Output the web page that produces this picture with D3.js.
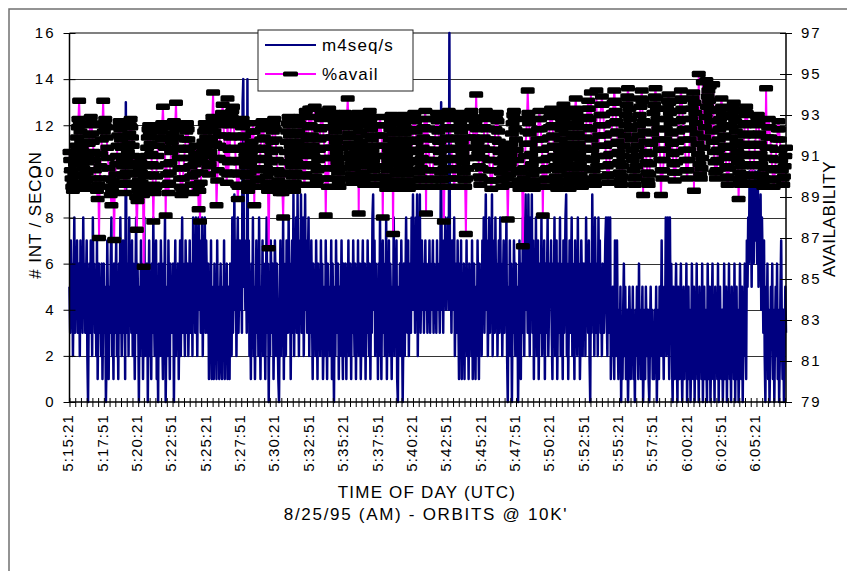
<!DOCTYPE html>
<html>
<head>
<meta charset="utf-8">
<script src="https://cdn.jsdelivr.net/npm/d3@7"></script>
<style>
  body { margin: 0; background: #fff; }
  text { font-family: "Liberation Sans", Arial, sans-serif; fill: #000; }
</style>
</head>
<body>
<script>
"use strict";

// samples every 3 s starting 5:15:21 ; minor tick every 25 s, label every 150 s
const stepSec = 3;
const spanSec = 3129;
const tickLabels = ["5:15:21","5:17:51","5:20:21","5:22:51","5:25:21","5:27:51","5:30:21","5:32:51","5:35:21","5:37:51",
  "5:40:21","5:42:51","5:45:21","5:47:51","5:50:21","5:52:51","5:55:21","5:57:51","6:00:21","6:02:51","6:05:21"];
const leftTicks = [0,2,4,6,8,10,12,14,16];
const rightTicks = [79,81,83,85,87,89,91,93,95,97];

const m4seq = [
  5,3,7,4,6,2,5,8,3,6,4,7,3,5,6,2,7,4,5,3,8,4,6,3,5,7,2,0,4,6,3,7,5,2,8,4,6,3,5,2,7,1,4,6,3,5,2,6,1,4,
  6,3,5,0,2,7,4,1,5,3,6,8,2,4,1,6,3,5,7,2,4,1,6,3,8,5,2,4,7,3,6,1,13,5,3,6,2,8,4,5,3,7,2,6,4,1,5,8,3,6,
  4,0,5,2,7,3,6,1,4,8,2,5,3,6,0,4,7,2,5,1,6,3,8,4,2,5,7,1,3,0,6,4,2,7,5,3,1,6,4,8,0,3,5,2,7,4,1,6,3,5,
  3,6,0,4,7,2,5,3,6,1,4,7,2,5,8,3,6,4,2,7,5,3,6,2,4,7,3,5,6,2,8,4,7,3,8,5,2,6,8,4,7,3,5,8,2,6,4,8,3,7,
  5,3,6,1,4,2,7,1,5,3,1,6,2,4,1,7,3,5,1,4,6,2,1,5,3,7,1,4,2,6,1,3,5,1,6,4,2,8,3,5,9,4,7,2,6,8,3,5,7,4,
  6,3,13,14,5,7,4,6,3,14,4,7,2,5,1,6,3,8,2,5,1,4,7,3,6,2,8,4,1,5,3,7,2,6,4,1,5,8,3,6,0,4,2,7,5,3,6,1,4,7,
  5,2,6,3,1,0,4,7,2,5,3,8,1,6,4,2,7,5,3,8,4,6,1,5,7,3,9,2,6,4,8,3,9,5,2,7,4,9,3,6,8,2,5,9,4,7,3,6,8,2,
  5,3,7,4,1,6,3,5,2,7,4,1,6,3,5,2,7,4,6,1,3,5,2,7,4,1,6,3,5,2,4,7,1,6,3,0,5,2,7,4,3,6,1,5,2,4,7,3,1,6,
  4,2,6,1,5,3,7,2,4,6,1,5,3,7,4,2,6,1,5,3,7,2,4,6,1,3,5,7,2,4,6,1,5,3,7,4,2,6,1,5,3,8,9,4,7,2,6,3,5,1,
  6,2,8,4,1,5,7,3,6,2,4,8,1,5,3,7,2,6,4,1,5,3,8,2,6,4,7,1,0,5,3,6,2,7,4,0,3,6,2,5,8,4,3,7,2,6,5,3,8,4,
  9,4,7,3,8,5,9,2,6,4,9,3,5,7,4,6,3,5,7,4,6,3,5,4,7,3,6,4,5,7,3,6,4,5,3,7,4,6,5,3,7,13,4,6,3,7,5,8,4,6,
  5,8,4,16,4,6,3,7,5,4,8,2,5,6,3,7,4,1,6,3,7,1,4,2,6,1,5,3,7,2,4,1,6,3,5,2,7,1,4,6,3,1,5,2,7,4,1,6,3,5,
  2,7,4,8,3,6,9,4,7,2,5,8,3,6,4,9,2,7,5,3,8,4,6,2,5,7,3,8,4,6,2,5,7,3,6,4,8,2,0,5,3,7,2,6,0,4,3,7,5,2,
  6,2,5,0,3,7,4,1,6,3,8,5,2,7,9,4,6,3,9,5,2,8,4,9,3,7,1,6,3,8,2,5,7,1,4,6,3,8,2,5,4,7,1,6,3,5,8,2,4,6,
  5,7,3,1,6,4,8,2,5,7,1,4,6,3,8,2,6,4,1,7,3,5,8,9,2,6,1,4,7,3,5,8,2,6,4,1,7,3,5,2,8,4,6,1,3,7,5,2,6,4,
  6,2,8,4,5,3,7,2,0,6,3,9,4,7,2,8,5,3,6,2,8,4,7,3,5,2,6,4,3,5,7,8,4,2,8,5,3,8,1,4,2,5,3,1,7,4,2,7,3,1,
  4,2,5,0,3,1,4,6,2,5,1,3,4,0,2,5,3,1,4,2,5,1,3,0,4,2,5,3,1,6,2,4,1,3,5,0,2,4,1,5,3,2,4,1,0,3,5,2,4,1,
  3,1,4,2,5,0,3,4,1,5,2,3,7,2,4,1,5,3,8,2,6,8,4,1,8,3,6,2,0,5,3,1,4,6,2,0,5,3,1,4,6,2,0,3,5,1,4,2,6,0,
  3,5,1,4,0,2,6,3,1,5,0,4,2,6,1,3,0,5,2,4,1,6,0,3,5,1,4,2,0,6,3,1,5,0,2,4,6,1,3,0,5,2,4,1,6,0,3,5,2,1,
  4,0,2,6,1,3,5,0,4,2,6,1,3,0,5,2,4,1,6,0,3,5,1,4,0,2,6,3,1,5,0,4,2,6,3,1,7,5,8,6,10,7,9,5,10,8,6,9,10,7,
  9,6,10,5,8,7,9,4,8,6,3,7,2,0,5,3,6,1,4,0,2,5,3,6,1,4,0,3,5,2,6,1,4,0,2,5,7,3,1,4,0,2,5,3
];

const avail = [
  91.2,90.8,90.3,89.9,89.5,89.3,89.7,90.1,90.6,91.0,91.5,91.9,92.4,92.8,93.7,92.6,92.2,91.7,91.3,90.8,90.4,90.0,89.6,89.4,89.8,
  90.2,90.7,91.1,91.6,92.0,92.5,92.9,92.6,92.1,91.7,91.2,90.8,90.3,89.9,89.5,89.3,88.9,89.6,87.0,89.9,90.5,91.1,91.8,92.5,93.7,
  92.2,92.6,92.8,92.4,91.9,91.4,90.9,90.4,89.9,89.5,89.1,88.6,89.3,89.8,89.2,86.9,89.6,90.1,90.6,91.0,91.5,92.0,92.4,92.7,92.3,
  91.8,91.4,90.9,90.5,90.0,89.6,89.2,89.7,90.2,90.7,91.2,91.6,92.1,92.5,92.8,92.4,91.9,91.5,91.0,90.5,90.1,89.6,89.0,87.4,88.8,
  89.3,89.8,90.3,90.7,90.2,89.7,89.4,89.1,85.6,89.5,90.0,90.5,91.0,91.4,91.9,92.3,92.5,92.1,91.6,91.1,90.6,90.1,87.8,89.6,89.2,
  89.5,90.0,90.5,91.0,91.5,91.9,92.3,92.5,92.2,91.8,92.6,93.4,92.4,91.9,91.4,88.1,90.6,90.1,89.6,89.2,89.7,90.2,90.7,91.2,91.7,
  92.1,92.5,92.7,92.4,92.6,93.6,92.3,91.9,91.4,90.9,90.4,89.9,89.5,89.1,89.4,89.9,90.4,90.9,91.3,91.8,92.2,92.6,92.3,91.8,91.4,
  90.9,90.5,90.0,89.6,89.2,89.6,90.1,90.6,91.1,91.5,90.9,90.2,89.6,88.4,89.3,87.8,89.7,90.2,90.7,91.2,91.7,92.2,92.6,92.3,91.9,
  91.5,91.0,90.5,90.1,90.6,91.2,91.8,92.4,92.9,94.1,92.7,92.2,91.6,90.9,88.6,89.8,90.3,90.9,91.5,92.0,92.5,92.9,93.1,93.5,92.6,
  92.0,91.4,90.8,90.2,89.7,93.8,90.1,90.7,91.3,91.9,92.5,92.9,93.2,93.4,92.6,92.0,91.4,90.8,90.2,89.6,88.9,89.5,90.1,90.7,91.3,
  91.9,92.4,92.8,92.5,92.0,91.5,91.0,90.5,90.0,89.6,89.3,89.7,90.2,90.7,91.2,91.7,92.2,92.6,92.2,88.6,91.4,90.9,90.4,89.9,89.5,
  89.8,90.3,90.8,91.3,91.8,92.3,92.7,92.4,91.9,91.4,90.9,90.4,90.0,89.6,89.3,86.5,89.7,90.2,90.7,91.2,91.7,92.2,92.6,92.8,92.3,
  91.8,91.3,90.8,90.3,89.8,89.4,89.2,89.6,90.1,89.5,89.2,88.0,89.7,90.2,90.7,91.2,91.7,92.2,92.6,92.9,92.5,92.0,91.5,91.0,90.5,
  90.0,89.6,89.3,89.7,90.2,90.7,91.2,91.7,92.2,92.6,92.9,92.5,92.0,91.5,91.0,90.5,90.0,89.6,90.1,93.2,90.6,91.2,91.8,92.4,93.3,
  92.9,92.5,93.3,92.0,91.5,91.0,90.5,93.4,90.0,89.6,89.8,90.3,90.8,91.3,91.8,92.3,92.8,93.2,92.9,92.4,91.9,91.4,90.9,88.1,90.4,
  89.9,89.5,89.9,93.3,90.4,90.9,91.4,91.9,92.4,92.8,93.1,92.7,92.2,91.7,91.2,90.7,90.2,89.7,89.5,89.9,90.4,90.9,91.4,91.9,92.4,
  92.8,93.1,92.9,92.5,93.0,93.8,92.6,92.1,91.6,91.1,90.6,90.1,89.7,89.9,90.4,90.9,91.4,91.9,92.4,92.8,93.1,88.2,92.7,92.2,91.7,
  91.2,90.7,90.2,89.8,89.6,90.0,90.5,91.0,91.5,92.0,92.5,92.9,93.2,92.8,92.3,91.8,91.3,90.8,90.3,89.9,89.6,90.0,90.5,91.0,91.5,
  92.0,92.5,92.9,92.5,92.0,91.5,88.0,91.0,90.5,90.0,89.6,89.4,89.8,90.3,90.8,91.3,91.8,92.3,92.7,93.0,92.6,87.2,92.1,91.6,91.1,
  90.6,90.1,89.7,89.4,89.8,90.3,90.8,91.3,91.8,92.3,92.7,93.0,92.6,92.1,91.6,91.1,90.6,90.1,89.7,89.4,89.8,90.3,90.8,91.3,91.8,
  92.3,92.8,93.1,92.7,92.2,91.7,91.2,90.7,90.2,89.8,89.5,89.9,90.4,90.9,91.4,91.9,92.4,92.8,93.2,88.2,92.8,92.3,91.8,91.3,90.8,
  90.3,89.9,89.5,89.8,90.3,90.8,91.3,91.8,92.3,92.8,93.1,92.7,92.2,91.7,91.2,90.7,90.2,89.8,89.5,89.9,87.8,90.4,90.9,91.4,91.9,
  92.4,92.9,93.2,92.8,92.3,91.8,91.3,90.8,90.3,89.9,89.5,89.9,90.4,90.9,91.4,91.9,92.4,92.9,93.1,92.7,92.2,91.7,91.2,90.7,90.2,
  89.8,89.5,87.2,89.9,90.4,90.9,91.4,91.9,92.4,92.8,93.2,92.9,92.4,91.9,91.4,90.9,92.7,94.0,92.3,91.7,91.1,90.5,90.0,89.6,89.9,
  90.4,90.9,91.4,91.9,92.4,92.9,93.2,92.8,92.3,91.8,91.3,90.8,90.3,89.8,89.4,89.8,90.3,90.8,91.3,91.8,92.3,92.8,93.1,92.7,92.2,
  91.7,91.2,90.7,90.2,89.8,89.5,89.9,90.4,90.9,91.4,91.0,90.4,89.9,87.9,89.6,90.1,90.6,91.1,91.6,92.1,92.6,93.0,93.2,92.8,92.3,
  91.8,91.3,90.8,90.3,89.8,89.4,89.7,90.2,89.6,89.4,86.6,89.9,90.4,91.0,91.6,92.2,92.8,94.2,93.1,92.6,92.1,91.6,91.1,90.6,90.1,
  89.7,89.4,89.8,90.3,90.8,91.3,91.8,92.3,92.8,93.2,92.8,92.3,91.8,91.3,88.1,90.8,90.3,89.8,89.5,89.9,90.4,90.9,91.4,91.9,92.4,
  92.9,93.3,93.0,92.5,92.0,91.5,91.0,90.5,90.0,89.6,89.4,89.8,90.3,90.8,91.3,91.8,92.3,92.8,93.2,93.5,93.1,92.6,92.1,91.6,91.1,
  90.6,90.1,89.7,89.4,89.9,90.4,90.9,91.4,91.9,92.4,92.9,93.3,93.8,93.1,92.6,92.1,91.6,91.1,90.6,90.1,89.7,89.5,89.9,90.4,90.9,
  91.4,91.9,92.4,92.9,93.3,93.7,93.3,92.8,92.3,94.1,91.8,91.3,90.8,90.3,89.8,89.6,90.0,94.2,90.5,91.0,91.5,92.0,92.5,93.0,93.5,
  93.9,93.5,93.0,92.5,92.0,91.5,91.0,90.5,90.0,89.7,90.1,90.6,91.1,91.6,92.1,92.6,93.1,93.6,94.2,93.7,93.2,92.7,92.2,91.7,91.2,
  90.7,90.2,89.8,89.6,90.0,90.5,91.0,91.5,92.0,92.5,93.0,93.5,93.9,94.3,93.8,93.3,92.8,92.3,91.8,91.3,90.8,90.3,89.9,89.6,90.0,
  90.5,91.0,91.5,92.0,92.5,93.0,93.4,93.8,94.2,93.7,89.1,92.7,92.2,91.7,91.2,90.7,90.2,89.8,89.6,90.1,90.6,91.1,91.6,92.1,92.6,
  93.1,93.5,93.9,94.3,93.8,93.3,92.8,92.3,91.8,91.3,90.8,89.1,90.3,89.9,90.3,90.8,91.3,91.8,92.3,92.8,93.3,93.7,94.0,93.6,93.1,
  92.6,92.1,91.6,91.1,90.6,90.2,89.8,90.2,90.7,91.2,91.7,92.2,92.7,93.2,93.7,94.2,93.8,93.3,92.8,92.3,91.8,91.3,90.8,90.3,89.9,
  90.3,90.8,91.3,91.8,92.3,92.8,93.3,93.8,94.1,89.3,93.6,93.1,92.6,92.1,91.6,91.1,95.0,90.6,90.1,89.9,90.4,90.9,94.6,91.4,91.9,
  92.4,92.9,94.7,93.4,93.9,94.2,93.7,94.4,93.2,92.7,92.2,91.7,94.5,91.2,90.7,90.2,89.9,90.3,90.8,91.3,91.8,92.3,92.8,93.3,93.8,
  93.4,93.0,92.5,92.0,91.5,91.0,90.5,90.0,89.6,89.9,90.4,90.9,91.4,91.9,92.4,92.9,93.3,93.6,93.2,92.7,92.2,91.7,91.2,90.7,88.9,
  90.2,89.8,89.6,90.0,90.5,91.0,91.5,92.0,92.5,93.0,93.4,93.1,92.6,92.1,91.6,91.1,90.6,90.1,89.7,89.6,90.0,90.5,91.0,91.5,92.0,
  92.5,92.9,93.0,92.6,92.1,91.6,91.1,90.6,90.1,89.7,89.5,89.9,90.4,90.9,94.3,91.4,91.9,92.4,92.8,92.4,91.9,91.4,
  90.9,90.4,89.9,89.5,89.8,90.3,90.8,91.3,91.8,92.3,92.7,92.3,91.8,91.3,90.8,90.3,89.9,89.6,90.0,90.5,91.0,91.4
];

const W = 847, H = 571;
const plotL = 69.5, plotR = 786, plotT = 33, plotB = 402;

const svg = d3.select("body").append("svg")
  .attr("width", W)
  .attr("height", H);

svg.append("rect").attr("width", W).attr("height", H).attr("fill", "#fff");
// outer chart frame, runs off the right / bottom edge
svg.append("rect")
  .attr("x", 9).attr("y", 9)
  .attr("width", W + 20).attr("height", H + 20)
  .attr("fill", "none").attr("stroke", "#707070").attr("stroke-width", 1.5);

const x = d3.scaleLinear().domain([0, spanSec]).range([plotL, plotR]);
const yL = d3.scaleLinear().domain([0, 16]).range([plotB, plotT]);
const yR = d3.scaleLinear().domain([79, 97]).range([plotB, plotT]);

// grid
svg.append("g").selectAll("line")
  .data(leftTicks.filter(d => d > 0 && d < 16))
  .enter().append("line")
  .attr("x1", plotL).attr("x2", plotR)
  .attr("y1", d => Math.round(yL(d)) + 0.5).attr("y2", d => Math.round(yL(d)) + 0.5)
  .attr("stroke", "#333").attr("stroke-width", 1);

svg.append("line")
  .attr("x1", plotL).attr("x2", plotR)
  .attr("y1", plotT).attr("y2", plotT)
  .attr("stroke", "#808080").attr("stroke-width", 2);

// m4seq/s
svg.append("path")
  .datum(m4seq)
  .attr("d", d3.line().x((d, i) => x(i * stepSec)).y(d => yL(d)))
  .attr("fill", "none")
  .attr("stroke", "#000080")
  .attr("stroke-width", 2.5)
  .attr("stroke-linejoin", "round");

// %avail
svg.append("path")
  .datum(avail)
  .attr("d", d3.line().x((d, i) => x(i * stepSec)).y(d => yR(d)))
  .attr("fill", "none")
  .attr("stroke", "#ff00ff")
  .attr("stroke-width", 2);

svg.append("g").selectAll("rect")
  .data(avail)
  .enter().append("rect")
  .attr("x", (d, i) => x(i * stepSec) - 7)
  .attr("y", d => yR(d) - 3.25)
  .attr("width", 14)
  .attr("height", 6.5)
  .attr("rx", 1.5)
  .attr("fill", "#000");

// axes
const xAxis = svg.append("g")
  .attr("transform", "translate(0," + plotB + ")")
  .call(d3.axisBottom(x).tickValues(d3.range(0, spanSec, 25)).tickSize(5).tickFormat(""));
xAxis.selectAll(".tick line").attr("y1", -4).attr("stroke", "#000");
xAxis.select(".domain").remove();

const xLab = svg.append("g")
  .attr("transform", "translate(0," + plotB + ")")
  .call(d3.axisBottom(x).tickValues(tickLabels.map((d, i) => i * 150)).tickSize(0)
    .tickFormat((d, i) => tickLabels[i]));
xLab.select(".domain").remove();
xLab.selectAll("text")
  .attr("transform", "rotate(-90)")
  .attr("x", -12).attr("y", -2).attr("dy", "0.36em")
  .attr("text-anchor", "end")
  .style("font-size", "15px")
  .style("letter-spacing", "1.1px");

const yAxisL = svg.append("g")
  .attr("transform", "translate(" + plotL + ",0)")
  .call(d3.axisLeft(yL).tickValues(leftTicks).tickSize(6));
yAxisL.selectAll(".tick line").attr("x2", -6).attr("x1", 6).attr("stroke", "#000");
yAxisL.selectAll("text").attr("x", -14).style("font-size", "15px").style("letter-spacing", "2px");
yAxisL.select(".domain").remove();

const yAxisR = svg.append("g")
  .attr("transform", "translate(" + plotR + ",0)")
  .call(d3.axisRight(yR).tickValues(rightTicks).tickSize(6));
yAxisR.selectAll(".tick line").attr("x1", -6).attr("x2", 6).attr("stroke", "#000");
yAxisR.selectAll("text").attr("x", 15).style("font-size", "15px").style("letter-spacing", "2px");
yAxisR.select(".domain").remove();

svg.append("line").attr("x1", plotL).attr("x2", plotL).attr("y1", plotT).attr("y2", plotB)
  .attr("stroke", "#000").attr("stroke-width", 1.5);
svg.append("line").attr("x1", plotR).attr("x2", plotR).attr("y1", plotT).attr("y2", plotB)
  .attr("stroke", "#000").attr("stroke-width", 1.5);
svg.append("line").attr("x1", plotL).attr("x2", plotR).attr("y1", plotB).attr("y2", plotB)
  .attr("stroke", "#000").attr("stroke-width", 1.5);

// titles
svg.append("text")
  .attr("x", 427).attr("y", 498)
  .attr("text-anchor", "middle")
  .style("font-size", "17px").style("letter-spacing", "1.2px")
  .text("TIME OF DAY (UTC)");
svg.append("text")
  .attr("x", 426).attr("y", 520)
  .attr("text-anchor", "middle")
  .style("font-size", "17px").style("letter-spacing", "1.7px")
  .text("8/25/95 (AM) - ORBITS @ 10K'");
svg.append("text")
  .attr("transform", "translate(41,215) rotate(-90)")
  .attr("text-anchor", "middle")
  .style("font-size", "17px").style("letter-spacing", "0.9px")
  .text("# INT / SECON");
svg.append("text")
  .attr("transform", "translate(835,219) rotate(-90)")
  .attr("text-anchor", "middle")
  .style("font-size", "17px").style("letter-spacing", "0.6px")
  .text("AVAILABILITY");

// legend
const lg = svg.append("g");
lg.append("rect")
  .attr("x", 258).attr("y", 30).attr("width", 155).attr("height", 61)
  .attr("fill", "#fff").attr("stroke", "#222").attr("stroke-width", 1);
lg.append("line").attr("x1", 265).attr("x2", 316).attr("y1", 45).attr("y2", 45)
  .attr("stroke", "#000080").attr("stroke-width", 2);
lg.append("line").attr("x1", 265).attr("x2", 316).attr("y1", 74).attr("y2", 74)
  .attr("stroke", "#ff00ff").attr("stroke-width", 2);
lg.append("rect").attr("x", 283).attr("y", 71.5).attr("width", 15).attr("height", 5)
  .attr("rx", 1.5).attr("fill", "#000");
lg.append("text").attr("x", 322).attr("y", 51)
  .style("font-size", "17px").style("letter-spacing", "1.1px").text("m4seq/s");
lg.append("text").attr("x", 322).attr("y", 80)
  .style("font-size", "17px").style("letter-spacing", "1.1px").text("%avail");
</script>
</body>
</html>
